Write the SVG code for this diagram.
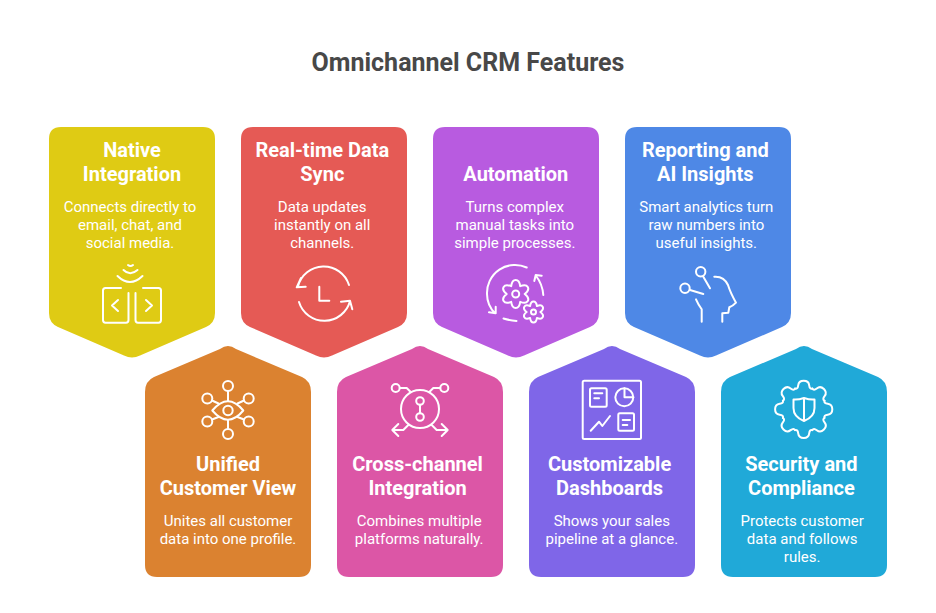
<svg xmlns="http://www.w3.org/2000/svg" xmlns:xlink="http://www.w3.org/1999/xlink" width="936" height="613" viewBox="0 0 936 613">
<style>
text{font-family:Roboto,"Liberation Sans",sans-serif;text-anchor:middle;fill:#fff}
.t{font-size:20px;font-weight:700}
.b{font-size:15px}
.i{fill:none;stroke:#fff;stroke-width:2;stroke-linecap:round;stroke-linejoin:round}
</style>
<defs>
<path id="down" d="M12 0H154Q166 0 166 12V186Q166 196 157 200L91 228.500Q83 232.500 75 228.500L9 200Q0 196 0 186V12Q0 0 12 0Z"/>
<path id="up" d="M83 0Q87 0 91 3L157 31Q166 35 166 46V219Q166 231 154 231H12Q0 231 0 219V46Q0 35 9 31L75 3Q79 0 83 0Z"/>
<path id="flower" d="M-4.5 -7.8C-3.5 -16 3.5 -16 4.5 -7.8C12.1 -11 15.6 -5 9 0C15.6 5 12.1 11 4.5 7.8C3.5 16 -3.5 16 -4.5 7.8C-12.1 11 -15.6 5 -9 0C-15.6 -5 -12.1 -11 -4.5 -7.8Z"/>
<path id="tooth" d="M-8.6 -20.8Q-6 -20 -5.5 -24Q-5 -28.6 0 -28.6Q5 -28.6 5.5 -24Q6 -20 8.6 -20.8"/>
</defs>
<rect width="936" height="613" fill="#fff"/>
<text x="468" y="71" style="font-size:25px;font-weight:700;fill:#484848">Omnichannel CRM Features</text>
<g id="connectors"/>

<g id="native-integration">
<use xlink:href="#down" href="#down" x="49" y="127" fill="#DFCB14"/>
<text class="t" x="132" y="157">Native</text><text class="t" x="132" y="181">Integration</text>
<text class="b" x="130" y="212">Connects directly to</text><text class="b" x="130" y="230">email, chat, and</text><text class="b" x="130" y="248">social media.</text>
<g class="i">
<path d="M128.500 293V320Q128.500 322.700 126 322.700H105.500Q103 322.700 103 320V290.500Q103 288 105.500 288H121"/>
<path d="M135.500 293V320Q135.500 322.700 138 322.700H158.500Q161 322.700 161 320V290.500Q161 288 158.500 288H143"/>
<path d="M118 300L112 305.500L118 311M146 300L152 305.500L146 311"/>
<path d="M117.500 276Q130 288 142.500 276M123.500 270Q130 276.500 137.500 270M128 265Q130.500 267 133 265"/>
</g>
</g>

<g id="realtime-data-sync">
<use xlink:href="#down" href="#down" x="241" y="127" fill="#E55A55"/>
<text class="t" x="322.300" y="157">Real-time Data</text><text class="t" x="322.300" y="181">Sync</text>
<text class="b" x="322.200" y="212">Data updates</text><text class="b" x="322.200" y="230">instantly on all</text><text class="b" x="322.200" y="248">channels.</text>
<g class="i">
<path d="M349 285A26.500 26.500 0 0 0 298 286.500M301 278L296.700 287.300L305.700 286.700"/>
<path d="M299 302A26.500 26.500 0 0 0 350 301M341 301.700L350 300.700L352.300 309.300"/>
<path d="M319.300 286.700V300.700H329.300"/>
</g>
</g>

<g id="automation">
<use xlink:href="#down" href="#down" x="433" y="127" fill="#B85BE0"/>
<text class="t" x="515.800" y="181">Automation</text>
<text class="b" x="514.800" y="212">Turns complex</text><text class="b" x="514.800" y="230">manual tasks into</text><text class="b" x="514.800" y="248">simple processes.</text>
<g class="i">
<path d="M526.700 267.500A28 28 0 0 0 487 294A28 28 0 0 0 495 313.300M495.700 306.700V313.300L489 312.300"/>
<path d="M503.500 318.500Q510 320.500 516.500 321"/>
<path d="M543.300 295Q542.500 284 535.700 275.500M534.300 281L535.700 275L541.700 275.700"/>
<use xlink:href="#flower" href="#flower" transform="translate(515.700 294)"/>
<circle cx="515.700" cy="294" r="3.500"/>
<use xlink:href="#flower" href="#flower" transform="translate(533.500 312) scale(.76)" style="stroke-width:2.600"/>
<circle cx="533.500" cy="312" r="2.500"/>
</g>
</g>

<g id="reporting-ai-insights">
<use xlink:href="#down" href="#down" x="625" y="127" fill="#4E88E6"/>
<text class="t" x="705.300" y="157">Reporting and</text><text class="t" x="705.300" y="181">AI Insights</text>
<text class="b" x="706.300" y="212">Smart analytics turn</text><text class="b" x="706.300" y="230">raw numbers into</text><text class="b" x="706.300" y="248">useful insights.</text>
<g class="i">
<circle cx="700.700" cy="271.700" r="4.700"/><path d="M703.300 276.700L710 288.300"/>
<circle cx="685" cy="288.300" r="4.700"/><path d="M690 290L703.300 294"/>
<path d="M696 299.300Q698 304 701.700 309.300V321.700"/>
<path d="M714.300 276.700Q724 276 728 285Q730.500 293 736 302.700Q733 306 729.300 307.300L728.300 312.700L722.300 313.300V321.700"/>
</g>
</g>

<g id="unified-customer-view">
<use xlink:href="#up" href="#up" x="145" y="346" fill="#DB8230"/>
<text class="t" x="228" y="471">Unified</text><text class="t" x="228" y="495">Customer View</text>
<text class="b" x="228" y="526">Unites all customer</text><text class="b" x="228" y="544">data into one profile.</text>
<g class="i">
<path d="M212.300 410.500Q228 392 243.300 410.500Q228 429 212.300 410.500Z"/>
<circle cx="228" cy="410.500" r="4.700"/>
<circle cx="228" cy="386" r="5"/><circle cx="228" cy="434" r="5"/>
<circle cx="207.300" cy="398.500" r="5"/><circle cx="248.700" cy="398.500" r="5"/>
<circle cx="207.300" cy="421.500" r="5"/><circle cx="248.700" cy="421.500" r="5"/>
<path d="M228 391V401M228 420V429M212 400.500L218.500 403.500M244 400.500L237.500 403.500M212 419.500L218.500 417M244 419.500L237.500 417"/>
</g>
</g>

<g id="cross-channel-integration">
<use xlink:href="#up" href="#up" x="337" y="346" fill="#DC56A6"/>
<text class="t" x="417.600" y="471">Cross-channel</text><text class="t" x="417.600" y="495">Integration</text>
<text class="b" x="419.200" y="526">Combines multiple</text><text class="b" x="419.200" y="544">platforms naturally.</text>
<g class="i">
<circle cx="420" cy="409" r="19"/>
<circle cx="420" cy="401" r="3.800"/><circle cx="420" cy="417" r="3.800"/><path d="M420 404.800V413.200"/>
<circle cx="395.700" cy="388" r="4"/><path d="M399.700 388H406.700L410.700 392"/>
<circle cx="444.300" cy="388" r="4"/><path d="M440.300 388H433.300L429.300 392"/>
<path d="M408.300 425L403.300 430H392.300M398.300 424L392.300 430L398.300 436"/>
<path d="M431.700 425L436.700 430H447.700M441.700 424L447.700 430L441.700 436"/>
</g>
</g>

<g id="customizable-dashboards">
<use xlink:href="#up" href="#up" x="529" y="346" fill="#7F66E8"/>
<text class="t" x="609.600" y="471">Customizable</text><text class="t" x="609.600" y="495">Dashboards</text>
<text class="b" x="611.800" y="526">Shows your sales</text><text class="b" x="611.800" y="544">pipeline at a glance.</text>
<g class="i">
<rect x="582.700" y="380.700" width="58.300" height="58.300" rx="1.500"/>
<rect x="590" y="388.300" width="16.700" height="18.400" rx="1.500"/>
<path d="M594.300 393.300H602.300M594.300 398.300H599"/>
<circle cx="624.300" cy="397.300" r="9"/><path d="M624.500 388.300V397.300H633.300"/>
<path d="M590.700 430.700L599 421.700L602.300 426L610 416"/>
<rect x="618.300" y="413.300" width="15.700" height="17.400" rx="1.500"/>
<path d="M622.700 420H630M622.700 425H627.300"/>
</g>
</g>

<g id="security-compliance">
<use xlink:href="#up" href="#up" x="721" y="346" fill="#20A9D8"/>
<text class="t" x="801.400" y="471">Security and</text><text class="t" x="801.400" y="495">Compliance</text>
<text class="b" x="802.200" y="526">Protects customer</text><text class="b" x="802.200" y="544">data and follows</text><text class="b" x="802.200" y="562">rules.</text>
<g class="i">
<g transform="translate(803.700 409.300)">
<use xlink:href="#tooth" href="#tooth"/>
<use xlink:href="#tooth" href="#tooth" transform="rotate(45)"/>
<use xlink:href="#tooth" href="#tooth" transform="rotate(90)"/>
<use xlink:href="#tooth" href="#tooth" transform="rotate(135)"/>
<use xlink:href="#tooth" href="#tooth" transform="rotate(180)"/>
<use xlink:href="#tooth" href="#tooth" transform="rotate(225)"/>
<use xlink:href="#tooth" href="#tooth" transform="rotate(270)"/>
<use xlink:href="#tooth" href="#tooth" transform="rotate(315)"/>
</g>
<path d="M804 398Q798 400 793.500 399.500V408Q793.500 417 804 421Q814.500 417 814.500 408V399.500Q810 400 804 398ZM804 398V421"/>
</g>
</g>
</svg>
